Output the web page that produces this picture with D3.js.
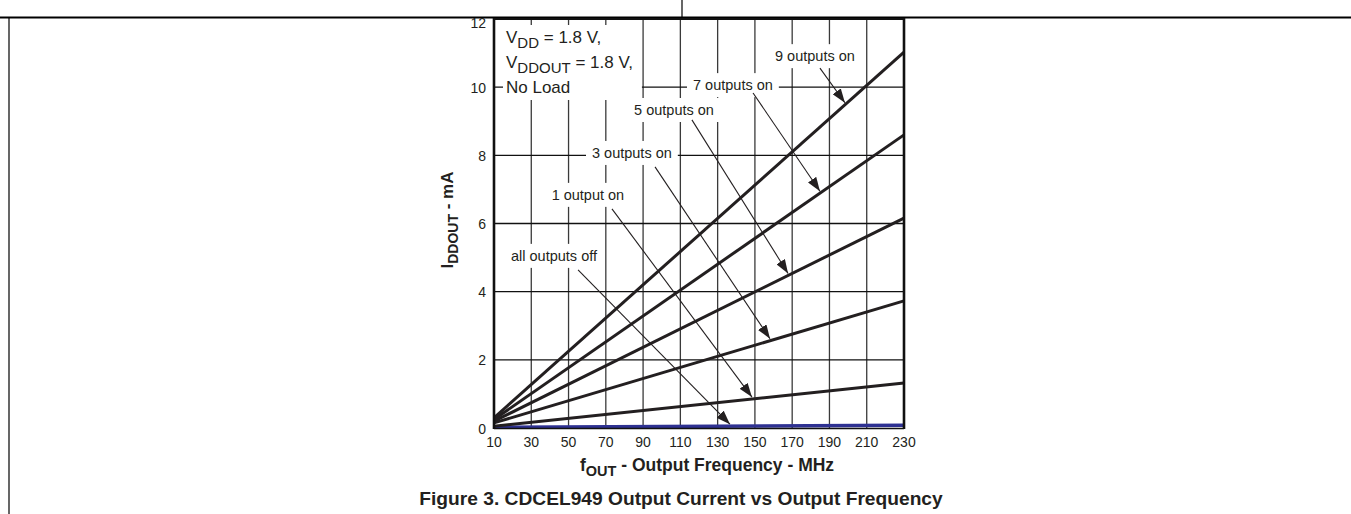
<!DOCTYPE html>
<html>
<head>
<meta charset="utf-8">
<script src="https://cdn.jsdelivr.net/npm/d3@7"></script>
<style>
  html, body { margin: 0; padding: 0; background: #fff; }
  svg { display: block; font-family: "Liberation Sans", Arial, sans-serif; }
</style>
</head>
<body>
<svg id="chart" width="1351" height="514"></svg>
<script>
// values (MHz, mA)
const freqEnds = [10, 230];
const seriesNames = ['all outputs off', '1 output on', '3 outputs on', '5 outputs on', '7 outputs on', '9 outputs on'];
const currentAtLow = [0.02, 0.05, 0.15, 0.2, 0.25, 0.3];
const currentAtHigh = [0.08, 1.32, 3.73, 6.16, 8.6, 11.03];
const xTicks = [10, 30, 50, 70, 90, 110, 130, 150, 170, 190, 210, 230];
const yTicks = [0, 2, 4, 6, 8, 10, 12];

// label anchors and arrow tips, in data units
const labelX = [42.2, 60.4, 84.0, 106.6, 138.2, 182.2];
const labelY = [5.05, 6.84, 8.07, 9.33, 10.06, 10.91];
const arrowFromX = [55.1, 73.3, 96.4, 116.2, 149.0, 184.9];
const arrowFromY = [4.64, 6.43, 7.66, 9.04, 9.83, 10.56];
const arrowToX = [136.6, 148.4, 158.1, 167.8, 184.9, 198.3];

const svg = d3.select('#chart');

// note: "top" is taken by window.top, so use plot* names
const plotLeft = 494, plotRight = 904, plotTop = 19, plotBottom = 428;

const x = d3.scaleLinear().domain([10, 230]).range([plotLeft, plotRight]);
const y = d3.scaleLinear().domain([0, 12]).range([plotBottom, plotTop]);

// page frame bits
svg.append('line').attr('x1', 0).attr('x2', 1351).attr('y1', 17.5).attr('y2', 17.5)
    .attr('stroke', '#000').attr('stroke-width', 2);
svg.append('line').attr('x1', 682).attr('x2', 682).attr('y1', 0).attr('y2', 17)
    .attr('stroke', '#000').attr('stroke-width', 1.2);
svg.append('line').attr('x1', 9).attr('x2', 9).attr('y1', 17).attr('y2', 514)
    .attr('stroke', '#000').attr('stroke-width', 1.2);

const defs = svg.append('defs');
defs.append('marker')
    .attr('id', 'arrow')
    .attr('viewBox', '0 0 14 10')
    .attr('refX', 14).attr('refY', 5)
    .attr('markerWidth', 14).attr('markerHeight', 10)
    .attr('markerUnits', 'userSpaceOnUse')
    .attr('orient', 'auto')
  .append('path')
    .attr('d', 'M0,0 L14,5 L0,10 Z')
    .attr('fill', '#231f20');

// grid
const grid = svg.append('g');
grid.selectAll('.vg')
    .data(xTicks.slice(1, -1))
    .enter().append('line')
        .attr('x1', d => x(d)).attr('x2', d => x(d))
        .attr('y1', plotTop).attr('y2', plotBottom)
        .attr('stroke', '#3a3a3a').attr('stroke-width', 1.3);
grid.selectAll('.hg')
    .data(yTicks.slice(1, -1))
    .enter().append('line')
        .attr('x1', plotLeft).attr('x2', plotRight)
        .attr('y1', d => y(d)).attr('y2', d => y(d))
        .attr('stroke', '#111').attr('stroke-width', 1.3);

// white boxes behind the labels are added after text is measured
const boxLayer = svg.append('g');
const lineLayer = svg.append('g');
const textLayer = svg.append('g');

// condition block
const cond = textLayer.append('g').attr('font-size', 17).attr('fill', '#231f20');
function subText(g, yy, main, sub, rest) {
    let t = g.append('text').attr('x', 506).attr('y', yy);
    t.append('tspan').text(main);
    t.append('tspan').attr('font-size', 15).attr('dy', 5).text(sub);
    t.append('tspan').attr('dy', -5).text(rest);
    return t;
}
subText(cond, 43, 'V', 'DD', ' = 1.8 V,');
subText(cond, 68, 'V', 'DDOUT', ' = 1.8 V,');
cond.append('text').attr('x', 506).attr('y', 93).text('No Load');

let cb = cond.node().getBBox();
boxLayer.append('rect')
    .attr('x', cb.x - 3).attr('y', cb.y - 3)
    .attr('width', cb.width + 12).attr('height', cb.height + 6)
    .attr('fill', '#fff');

// series labels
seriesNames.forEach((name, i) => {
    let t = textLayer.append('text')
        .attr('x', x(labelX[i])).attr('y', y(labelY[i]))
        .attr('text-anchor', 'middle')
        .attr('dominant-baseline', 'central')
        .attr('font-size', 14.5)
        .attr('fill', '#231f20')
        .text(name);
    let b = t.node().getBBox();
    boxLayer.append('rect')
        .attr('x', b.x - 6).attr('y', b.y - 4)
        .attr('width', b.width + 12).attr('height', b.height + 8)
        .attr('fill', '#fff');
});

// series lines
const line = d3.line().x(d => x(d[0])).y(d => y(d[1]));
seriesNames.forEach((name, i) => {
    lineLayer.append('path')
        .datum([[freqEnds[0], currentAtLow[i]], [freqEnds[1], currentAtHigh[i]]])
        .attr('d', line)
        .attr('fill', 'none')
        .attr('stroke', i === 0 ? '#2e3192' : '#231f20')
        .attr('stroke-width', i === 0 ? 3.5 : 3);
});

// arrows
function valueAt(i, f) {
    return currentAtLow[i] + (currentAtHigh[i] - currentAtLow[i]) * (f - freqEnds[0]) / (freqEnds[1] - freqEnds[0]);
}
seriesNames.forEach((name, i) => {
    lineLayer.append('line')
        .attr('x1', x(arrowFromX[i])).attr('y1', y(arrowFromY[i]))
        .attr('x2', x(arrowToX[i])).attr('y2', y(valueAt(i, arrowToX[i])) - 2)
        .attr('stroke', '#231f20').attr('stroke-width', 1.1)
        .attr('marker-end', 'url(#arrow)');
});

// frame
const frame = svg.append('g');
frame.append('line').attr('x1', plotLeft).attr('x2', plotLeft).attr('y1', plotTop - 1).attr('y2', plotBottom + 1)
    .attr('stroke', '#111').attr('stroke-width', 2.6);
frame.append('line').attr('x1', plotRight).attr('x2', plotRight).attr('y1', plotTop - 1).attr('y2', plotBottom + 1)
    .attr('stroke', '#111').attr('stroke-width', 2.6);
frame.append('line').attr('x1', plotLeft).attr('x2', plotRight).attr('y1', plotTop).attr('y2', plotTop)
    .attr('stroke', '#111').attr('stroke-width', 2);
frame.append('line').attr('x1', plotLeft).attr('x2', plotRight).attr('y1', plotBottom + 0.5).attr('y2', plotBottom + 0.5)
    .attr('stroke', '#111').attr('stroke-width', 1.5);

// tick labels (the top one sits just under the page rule)
svg.append('g').selectAll('text')
    .data(yTicks)
    .enter().append('text')
        .attr('x', plotLeft - 8).attr('y', d => Math.max(y(d) + 0.5, plotTop + 4))
        .attr('text-anchor', 'end')
        .attr('dominant-baseline', 'central')
        .attr('font-size', 14)
        .attr('fill', '#231f20')
        .text(d => d);
svg.append('g').selectAll('text')
    .data(xTicks)
    .enter().append('text')
        .attr('x', d => x(d)).attr('y', plotBottom + 19)
        .attr('text-anchor', 'middle')
        .attr('font-size', 14)
        .attr('fill', '#231f20')
        .text(d => d);

// axis titles
const xt = svg.append('text')
    .attr('x', 707).attr('y', 471)
    .attr('text-anchor', 'middle')
    .attr('font-size', 17.5).attr('font-weight', 'bold')
    .attr('fill', '#231f20');
xt.append('tspan').text('f');
xt.append('tspan').attr('font-size', 14.5).attr('dy', 5).text('OUT');
xt.append('tspan').attr('dy', -5).text(' - Output Frequency - MHz');

const yt = svg.append('text')
    .attr('transform', 'translate(453,220) rotate(-90)')
    .attr('text-anchor', 'middle')
    .attr('font-size', 17).attr('font-weight', 'bold')
    .attr('fill', '#231f20');
yt.append('tspan').text('I');
yt.append('tspan').attr('font-size', 14).attr('dy', 5).text('DDOUT');
yt.append('tspan').attr('dy', -5).text(' - mA');

// caption
svg.append('text')
    .attr('x', 681).attr('y', 505)
    .attr('text-anchor', 'middle')
    .attr('font-size', 19.2).attr('font-weight', 'bold')
    .attr('fill', '#231f20')
    .text('Figure 3. CDCEL949 Output Current vs Output Frequency');
</script>
</body>
</html>
